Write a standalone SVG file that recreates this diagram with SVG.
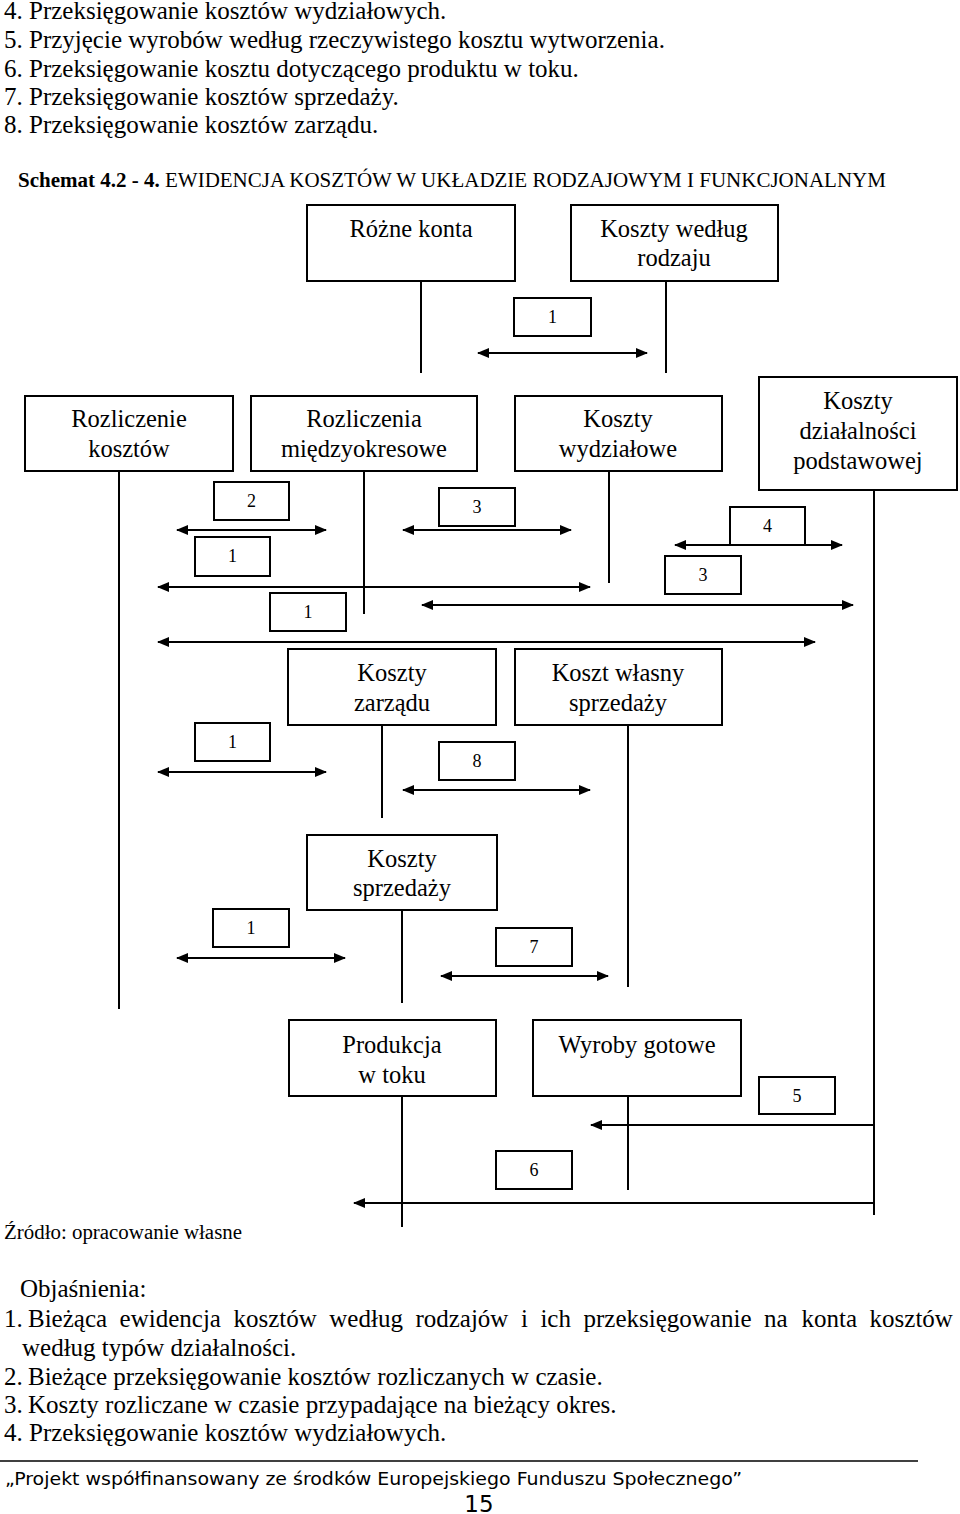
<svg xmlns="http://www.w3.org/2000/svg" width="960" height="1514" viewBox="0 0 960 1514">
<defs>
<marker id="ah" viewBox="0 0 12 10" refX="11" refY="5" markerWidth="12" markerHeight="10" markerUnits="userSpaceOnUse" orient="auto-start-reverse">
<path d="M0,0 L12,5 L0,10 z" fill="#000"/>
</marker>
<style>
.t{font-family:"Liberation Serif","Times New Roman",serif;font-size:25px;fill:#000}
.bt{font-family:"Liberation Serif","Times New Roman",serif;font-size:24.5px;fill:#000;text-anchor:middle}
.n{font-family:"Liberation Serif","Times New Roman",serif;font-size:18px;fill:#000;text-anchor:middle}
.box{fill:#fff;stroke:#000;stroke-width:2}
.v{stroke:#000;stroke-width:2;fill:none}
.a{stroke:#000;stroke-width:2;fill:none;marker-start:url(#ah);marker-end:url(#ah)}
.al{stroke:#000;stroke-width:2;fill:none;marker-start:url(#ah)}
</style>
</defs>
<rect width="960" height="1514" fill="#fff"/>

<g id="intro">
<text class="t" x="4" y="19">4.</text><text class="t" x="29" y="19">Przeksięgowanie kosztów wydziałowych.</text>
<text class="t" x="4" y="48">5.</text><text class="t" x="29" y="48">Przyjęcie wyrobów według rzeczywistego kosztu wytworzenia.</text>
<text class="t" x="4" y="77">6.</text><text class="t" x="29" y="77">Przeksięgowanie kosztu dotyczącego produktu w toku.</text>
<text class="t" x="4" y="105">7.</text><text class="t" x="29" y="105">Przeksięgowanie kosztów sprzedaży.</text>
<text class="t" x="4" y="133">8.</text><text class="t" x="29" y="133">Przeksięgowanie kosztów zarządu.</text>
<text class="t" x="18" y="187" style="font-size:21px"><tspan font-weight="bold">Schemat 4.2 - 4.</tspan> EWIDENCJA KOSZTÓW W UKŁADZIE RODZAJOWYM I FUNKCJONALNYM</text>
</g>

<g id="connectors">
<line class="v" x1="421" y1="281" x2="421" y2="373"/>
<line class="v" x1="666" y1="281" x2="666" y2="373"/>
<line class="v" x1="119" y1="471" x2="119" y2="1009"/>
<line class="v" x1="364" y1="471" x2="364" y2="614"/>
<line class="v" x1="609" y1="471" x2="609" y2="583"/>
<line class="v" x1="874" y1="490" x2="874" y2="1215"/>
<line class="v" x1="382" y1="725" x2="382" y2="818"/>
<line class="v" x1="628" y1="725" x2="628" y2="987"/>
<line class="v" x1="402" y1="910" x2="402" y2="1003"/>
<line class="v" x1="402" y1="1096" x2="402" y2="1227"/>
<line class="v" x1="628" y1="1096" x2="628" y2="1190"/>

<line class="a" x1="478" y1="353" x2="647" y2="353"/>
<line class="a" x1="177" y1="530" x2="326" y2="530"/>
<line class="a" x1="403" y1="530" x2="571" y2="530"/>
<line class="a" x1="675" y1="545" x2="842" y2="545"/>
<line class="a" x1="158" y1="587" x2="590" y2="587"/>
<line class="a" x1="422" y1="605" x2="853" y2="605"/>
<line class="a" x1="158" y1="642" x2="815" y2="642"/>
<line class="a" x1="158" y1="772" x2="326" y2="772"/>
<line class="a" x1="403" y1="790" x2="590" y2="790"/>
<line class="a" x1="177" y1="958" x2="345" y2="958"/>
<line class="a" x1="441" y1="976" x2="608" y2="976"/>
<line class="al" x1="591" y1="1125" x2="874" y2="1125"/>
<line class="al" x1="354" y1="1203" x2="874" y2="1203"/>
</g>

<g id="n-rozne-konta"><rect class="box" x="307" y="205" width="208" height="76"/><text class="bt" x="411" y="237">Różne konta</text></g>
<g id="n-koszty-rodzaju"><rect class="box" x="571" y="205" width="207" height="76"/><text class="bt" x="674" y="237">Koszty według</text><text class="bt" x="674" y="266">rodzaju</text></g>
<g id="n-rozliczenie-kosztow"><rect class="box" x="25" y="396" width="208" height="75"/><text class="bt" x="129" y="427">Rozliczenie</text><text class="bt" x="129" y="457">kosztów</text></g>
<g id="n-rozliczenia-miedzyokresowe"><rect class="box" x="251" y="396" width="226" height="75"/><text class="bt" x="364" y="427">Rozliczenia</text><text class="bt" x="364" y="457">międzyokresowe</text></g>
<g id="n-koszty-wydzialowe"><rect class="box" x="515" y="396" width="207" height="75"/><text class="bt" x="618" y="427">Koszty</text><text class="bt" x="618" y="457">wydziałowe</text></g>
<g id="n-koszty-dzialalnosci"><rect class="box" x="759" y="377" width="198" height="113"/><text class="bt" x="858" y="409">Koszty</text><text class="bt" x="858" y="439">działalności</text><text class="bt" x="858" y="469">podstawowej</text></g>
<g id="n-koszty-zarzadu"><rect class="box" x="288" y="649" width="208" height="76"/><text class="bt" x="392" y="681">Koszty</text><text class="bt" x="392" y="711">zarządu</text></g>
<g id="n-koszt-wlasny"><rect class="box" x="515" y="649" width="207" height="76"/><text class="bt" x="618" y="681">Koszt własny</text><text class="bt" x="618" y="711">sprzedaży</text></g>
<g id="n-koszty-sprzedazy"><rect class="box" x="307" y="835" width="190" height="75"/><text class="bt" x="402" y="867">Koszty</text><text class="bt" x="402" y="896">sprzedaży</text></g>
<g id="n-produkcja"><rect class="box" x="289" y="1020" width="207" height="76"/><text class="bt" x="392" y="1053">Produkcja</text><text class="bt" x="392" y="1083">w toku</text></g>
<g id="n-wyroby"><rect class="box" x="533" y="1020" width="208" height="76"/><text class="bt" x="637" y="1053">Wyroby gotowe</text></g>

<g id="labels">
<g id="l1a"><rect class="box" x="514" y="298" width="77" height="38"/><text class="n" x="552.5" y="323">1</text></g>
<g id="l2"><rect class="box" x="214" y="482" width="75" height="38"/><text class="n" x="251.5" y="507">2</text></g>
<g id="l3a"><rect class="box" x="439" y="488" width="76" height="38"/><text class="n" x="477" y="513">3</text></g>
<g id="l4"><rect class="box" x="730" y="507" width="75" height="38"/><text class="n" x="767.5" y="532">4</text></g>
<g id="l1b"><rect class="box" x="195" y="537" width="75" height="39"/><text class="n" x="232.5" y="562">1</text></g>
<g id="l3b"><rect class="box" x="665" y="556" width="76" height="38"/><text class="n" x="703" y="581">3</text></g>
<g id="l1c"><rect class="box" x="270" y="593" width="76" height="38"/><text class="n" x="308" y="618">1</text></g>
<g id="l1d"><rect class="box" x="195" y="723" width="75" height="38"/><text class="n" x="232.5" y="748">1</text></g>
<g id="l8"><rect class="box" x="439" y="742" width="76" height="38"/><text class="n" x="477" y="767">8</text></g>
<g id="l1e"><rect class="box" x="213" y="909" width="76" height="38"/><text class="n" x="251" y="934">1</text></g>
<g id="l7"><rect class="box" x="496" y="928" width="76" height="38"/><text class="n" x="534" y="953">7</text></g>
<g id="l5"><rect class="box" x="759" y="1077" width="76" height="37"/><text class="n" x="797" y="1102">5</text></g>
<g id="l6"><rect class="box" x="496" y="1151" width="76" height="38"/><text class="n" x="534" y="1176">6</text></g>
</g>

<g id="notes">
<text class="t" x="4" y="1239" style="font-size:20px" textLength="238" lengthAdjust="spacingAndGlyphs">Źródło: opracowanie własne</text>
<text class="t" x="20" y="1297">Objaśnienia:</text>
<text class="t" y="1327"><tspan x="4">1.</tspan><tspan x="28">Bieżąca</tspan><tspan x="119.6">ewidencja</tspan><tspan x="233.5">kosztów</tspan><tspan x="329.3">według</tspan><tspan x="415.4">rodzajów</tspan><tspan x="520.9">i</tspan><tspan x="540.4">ich</tspan><tspan x="583.5">przeksięgowanie</tspan><tspan x="764">na</tspan><tspan x="801.5">konta</tspan><tspan x="869.6">kosztów</tspan></text>
<text class="t" x="22" y="1356">według typów działalności.</text>
<text class="t" x="4" y="1385">2.</text><text class="t" x="28" y="1385">Bieżące przeksięgowanie kosztów rozliczanych w czasie.</text>
<text class="t" x="4" y="1413">3.</text><text class="t" x="28" y="1413">Koszty rozliczane w czasie przypadające na bieżący okres.</text>
<text class="t" x="4" y="1441">4.</text><text class="t" x="29" y="1441">Przeksięgowanie kosztów wydziałowych.</text>
</g>

<g id="footer">
<line x1="0" y1="1461" x2="918" y2="1461" stroke="#000" stroke-width="1.5"/>
<text x="5" y="1485" style="font-family:'DejaVu Sans',Verdana,sans-serif;font-size:18px;fill:#000" textLength="737" lengthAdjust="spacingAndGlyphs">„Projekt współfinansowany ze środków Europejskiego Funduszu Społecznego”</text>
<text x="479" y="1512" style="font-family:'DejaVu Sans',Verdana,sans-serif;font-size:23px;fill:#000;text-anchor:middle">15</text>
</g>
</svg>
